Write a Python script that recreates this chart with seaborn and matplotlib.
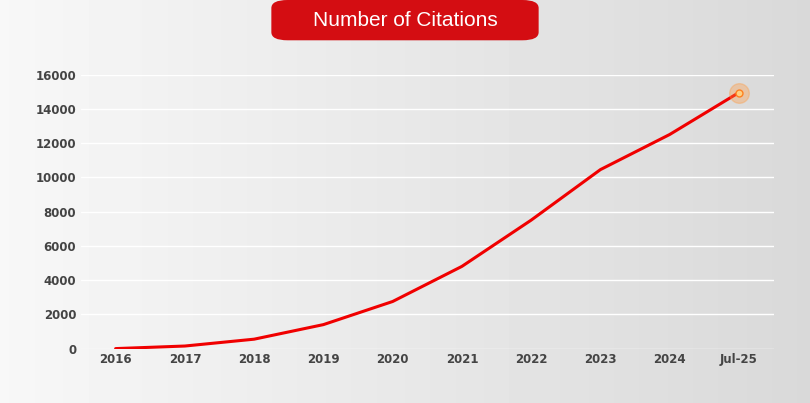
import numpy as np
import pandas as pd
import matplotlib.pyplot as plt
import seaborn as sns
from matplotlib.patches import FancyBboxPatch

years = ['2016', '2017', '2018', '2019', '2020', '2021', '2022', '2023', '2024', 'Jul-25']
citations = [0, 150, 550, 1400, 2750, 4800, 7500, 10450, 12500, 14950]
yticks = [0, 2000, 4000, 6000, 8000, 10000, 12000, 14000, 16000]

df = pd.DataFrame({'year': years, 'citations': citations})

sns.set_style("white")
fig = plt.figure(figsize=(8.1, 4.03), dpi=100)

# background gradient panel
bg = fig.add_axes([0, 0, 1, 1])
grad = np.linspace(0, 1, 256)
img = np.outer(np.ones(50), 0.97 - 0.12 * grad)
bg.imshow(img, cmap='gray', vmin=0, vmax=1, aspect='auto', extent=[0, 1, 0, 1])
bg.set_xlim(0, 1)
bg.set_ylim(0, 1)
bg.axis('off')
bg.add_patch(FancyBboxPatch((0.335, 0.9), 0.33, 0.1, boxstyle="round,pad=0,rounding_size=0.02",
                            facecolor='#d40d12', edgecolor='none'))
bg.text(0.5, 0.948, 'Number of Citations', color='white', fontsize=15,
        ha='center', va='center', family='Liberation Sans')

ax = fig.add_axes([0.1, 0.135, 0.855, 0.68])
ax.set_facecolor('none')
sns.lineplot(data=df, x='year', y='citations', ax=ax, color='#f00000', linewidth=2.2, sort=False)
ax.scatter([len(years) - 1], [citations[-1]], s=200, color='#ff9a40', alpha=0.35, zorder=4)
ax.scatter([len(years) - 1], [citations[-1]], s=25, color='#ffd080', edgecolor='#ff8020', zorder=5)
ax.set_ylim(0, 16000)
ax.set_xlim(-0.5, len(years) - 0.5)
ax.set_yticks(yticks)
ax.set_yticklabels([str(v) for v in yticks])
ax.grid(axis='y', color='white', linewidth=1)
ax.set_axisbelow(True)
for s in ax.spines.values():
    s.set_visible(False)
ax.tick_params(length=0, labelsize=8.5, colors='#444444')
for lab in ax.get_xticklabels() + ax.get_yticklabels():
    lab.set_fontweight('bold')
ax.set_xlabel('')
ax.set_ylabel('')

fig.savefig('out.png', dpi=100)
